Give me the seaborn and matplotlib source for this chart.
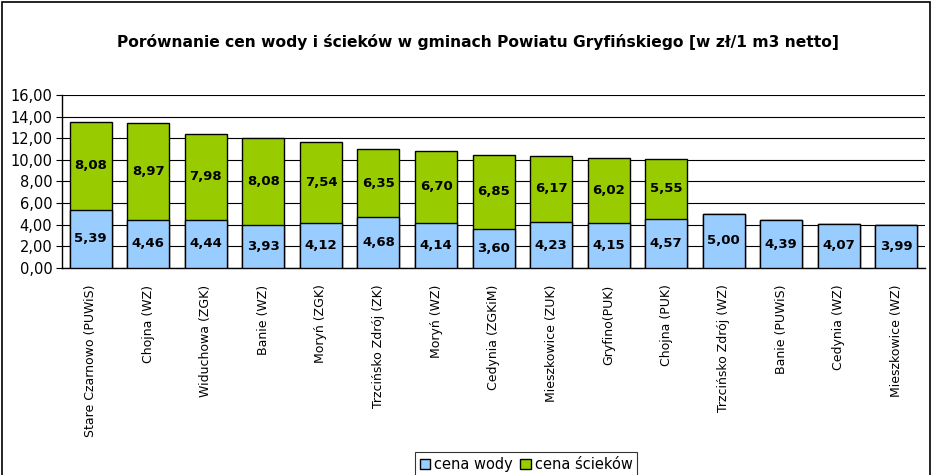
import pandas as pd
import seaborn as sns
import matplotlib.pyplot as plt
from matplotlib.patches import Rectangle, Patch
import numpy as np

# data
gminy = [
    "Stare Czarnowo (PUWiS)", "Chojna (WZ)", "Widuchowa (ZGK)", "Banie (WZ)",
    "Moryń (ZGK)", "Trzcińsko Zdrój (ZK)", "Moryń (WZ)", "Cedynia (ZGKiM)",
    "Mieszkowice (ZUK)", "Gryfino(PUK)", "Chojna (PUK)", "Trzcińsko Zdrój (WZ)",
    "Banie (PUWiS)", "Cedynia (WZ)", "Mieszkowice (WZ)",
]
cena_wody = [5.39, 4.46, 4.44, 3.93, 4.12, 4.68, 4.14, 3.60, 4.23, 4.15, 4.57, 5.00, 4.39, 4.07, 3.99]
cena_sciekow = [8.08, 8.97, 7.98, 8.08, 7.54, 6.35, 6.70, 6.85, 6.17, 6.02, 5.55, 0, 0, 0, 0]

df = pd.DataFrame({"gmina": gminy, "woda": cena_wody, "scieki": cena_sciekow})
df["suma"] = df["woda"] + df["scieki"]

sns.set_style("white")
plt.rcParams["font.family"] = ["DejaVu Sans"]
plt.rcParams["text.color"] = "black"
plt.rcParams["xtick.color"] = "black"
plt.rcParams["ytick.color"] = "black"

fig = plt.figure(figsize=(9.33, 4.75), dpi=100)
ax = fig.add_axes([0.0665, 0.436, 0.925, 0.364])

blue = "#99ccff"
green = "#99cc00"
sns.barplot(data=df, x="gmina", y="suma", color=green, edgecolor="black",
            linewidth=1, width=0.73, saturation=1, ax=ax, zorder=3)
sns.barplot(data=df, x="gmina", y="woda", color=blue, edgecolor="black",
            linewidth=1, width=0.73, saturation=1, ax=ax, zorder=3)

def fmt(v):
    return f"{v:.2f}".replace(".", ",")

for i, (w, s) in enumerate(zip(cena_wody, cena_sciekow)):
    ax.text(i, w / 2, fmt(w), ha="center", va="center", fontsize=9.5,
            fontweight="bold", color="black", zorder=4)
    if s > 0:
        ax.text(i, w + s / 2, fmt(s), ha="center", va="center", fontsize=9.5,
                fontweight="bold", color="black", zorder=4)

ax.set_ylim(0, 16)
ax.set_xlim(-0.5, len(gminy) - 0.5)
yt = np.arange(0, 17, 2)
ax.set_yticks(yt)
ax.set_yticklabels([fmt(v) for v in yt], fontsize=10.5)
ax.yaxis.grid(True, color="black", linewidth=0.8, zorder=0)
ax.set_axisbelow(True)
ax.set_xticks(range(len(gminy)))
ax.set_xticklabels(gminy, rotation=90, fontsize=9)
ax.set_xticks(np.arange(-0.5, len(gminy), 1), minor=True)
ax.tick_params(axis="x", which="major", length=0, pad=12)
ax.tick_params(axis="x", which="minor", length=4, color="black", direction="out")
ax.tick_params(axis="y", length=4, color="black", direction="out", left=True, pad=3)
ax.set_xlabel("")
ax.set_ylabel("")
for sp in ["top", "right"]:
    ax.spines[sp].set_visible(False)
for sp in ["left", "bottom"]:
    ax.spines[sp].set_color("black")
    ax.spines[sp].set_linewidth(1)

fig.text(0.512, 0.912, "Porównanie cen wody i ścieków w gminach Powiatu Gryfińskiego [w zł/1 m3 netto]",
         ha="center", va="center", fontsize=11.2, fontweight="bold", color="black")

handles = [Patch(facecolor=blue, edgecolor="black", label="cena wody"),
           Patch(facecolor=green, edgecolor="black", label="cena ścieków")]
leg = fig.legend(handles=handles, loc="upper center", bbox_to_anchor=(0.564, 0.063),
                 ncol=2, fontsize=10.5, frameon=True, fancybox=False,
                 handlelength=0.7, handleheight=0.7, handletextpad=0.3,
                 columnspacing=0.5, borderpad=0.3)
leg.get_frame().set_edgecolor("black")
leg.get_frame().set_linewidth(0.8)

fig.patches.append(Rectangle((0.002, -0.01), 0.995, 1.005, transform=fig.transFigure,
                             fill=False, edgecolor="black", linewidth=1.2))

fig.savefig("out.png", dpi=100)
